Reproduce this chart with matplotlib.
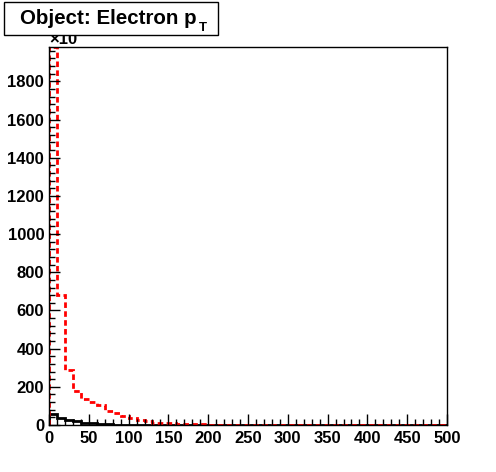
import matplotlib
matplotlib.use("Agg")
import matplotlib.pyplot as plt
import numpy as np
from matplotlib.patches import Rectangle
from matplotlib.ticker import MultipleLocator

plt.rcParams["font.family"] = ["Liberation Sans", "DejaVu Sans"]

# histogram bins: 50 bins of width 10 between 0 and 500
bin_edges = np.arange(0, 510, 10)
red_counts = [1980, 680, 288, 178, 134, 120, 105, 73, 65, 47,
              37, 26, 19, 12, 12, 10, 5, 4, 3, 3,
              2, 2, 2, 1, 1, 1, 1, 1, 1, 1,
              1, 0, 0, 0, 0, 0, 0, 0, 0, 0,
              0, 0, 0, 0, 0, 0, 0, 0, 0, 0]
black_counts = [56, 38, 26, 19, 12, 8, 5, 3, 2, 2,
                1, 1, 1, 0, 0, 0, 0, 0, 0, 0,
                0, 0, 0, 0, 0, 0, 0, 0, 0, 0,
                0, 0, 0, 0, 0, 0, 0, 0, 0, 0,
                0, 0, 0, 0, 0, 0, 0, 0, 0, 0]
title_text = "Object: Electron p"
title_sub = "T"

fig = plt.figure(figsize=(4.96, 4.72), dpi=100)
ax = fig.add_axes([49 / 496, 1 - 425 / 472, 398 / 496, (425 - 47) / 472])

ax.stairs(black_counts, bin_edges, color="black", lw=2)
ax.stairs(red_counts, bin_edges, color="red", lw=2, ls=(0, (2, 1.2)))

ax.set_xlim(0, 500)
ax.set_ylim(0, 1980)
ax.xaxis.set_major_locator(MultipleLocator(50))
ax.xaxis.set_minor_locator(MultipleLocator(10))
ax.yaxis.set_major_locator(MultipleLocator(200))
ax.yaxis.set_minor_locator(MultipleLocator(40))
ax.tick_params(which="both", direction="in", top=False, right=False, width=1)
ax.tick_params(which="major", length=8, labelsize=12)
ax.tick_params(axis="y", which="major", pad=3.5)
ax.tick_params(axis="x", which="major", pad=4.5)
ax.tick_params(which="minor", length=4)
for lab in ax.get_xticklabels() + ax.get_yticklabels():
    lab.set_fontweight("bold")
for sp in ax.spines.values():
    sp.set_linewidth(1)

# exponent label above y axis (partly hidden under the title box)
fig.text(49 / 496, 1 - 40 / 472, "\u00d710", fontsize=12, fontweight="bold",
         ha="left", va="center", zorder=0.5)

# title box
fig.patches.append(Rectangle((4 / 496, 1 - 35 / 472), 214 / 496, 33 / 472,
                             transform=fig.transFigure, facecolor="white",
                             edgecolor="black", lw=1, zorder=1))
fig.text(20 / 496, 1 - 18 / 472, title_text, fontsize=14.8, fontweight="bold",
         ha="left", va="center", zorder=3)
fig.text(199 / 496, 1 - 28 / 472, title_sub, fontsize=9.5, fontweight="bold",
         ha="left", va="center", zorder=3)

fig.savefig("out.png", dpi=100)
